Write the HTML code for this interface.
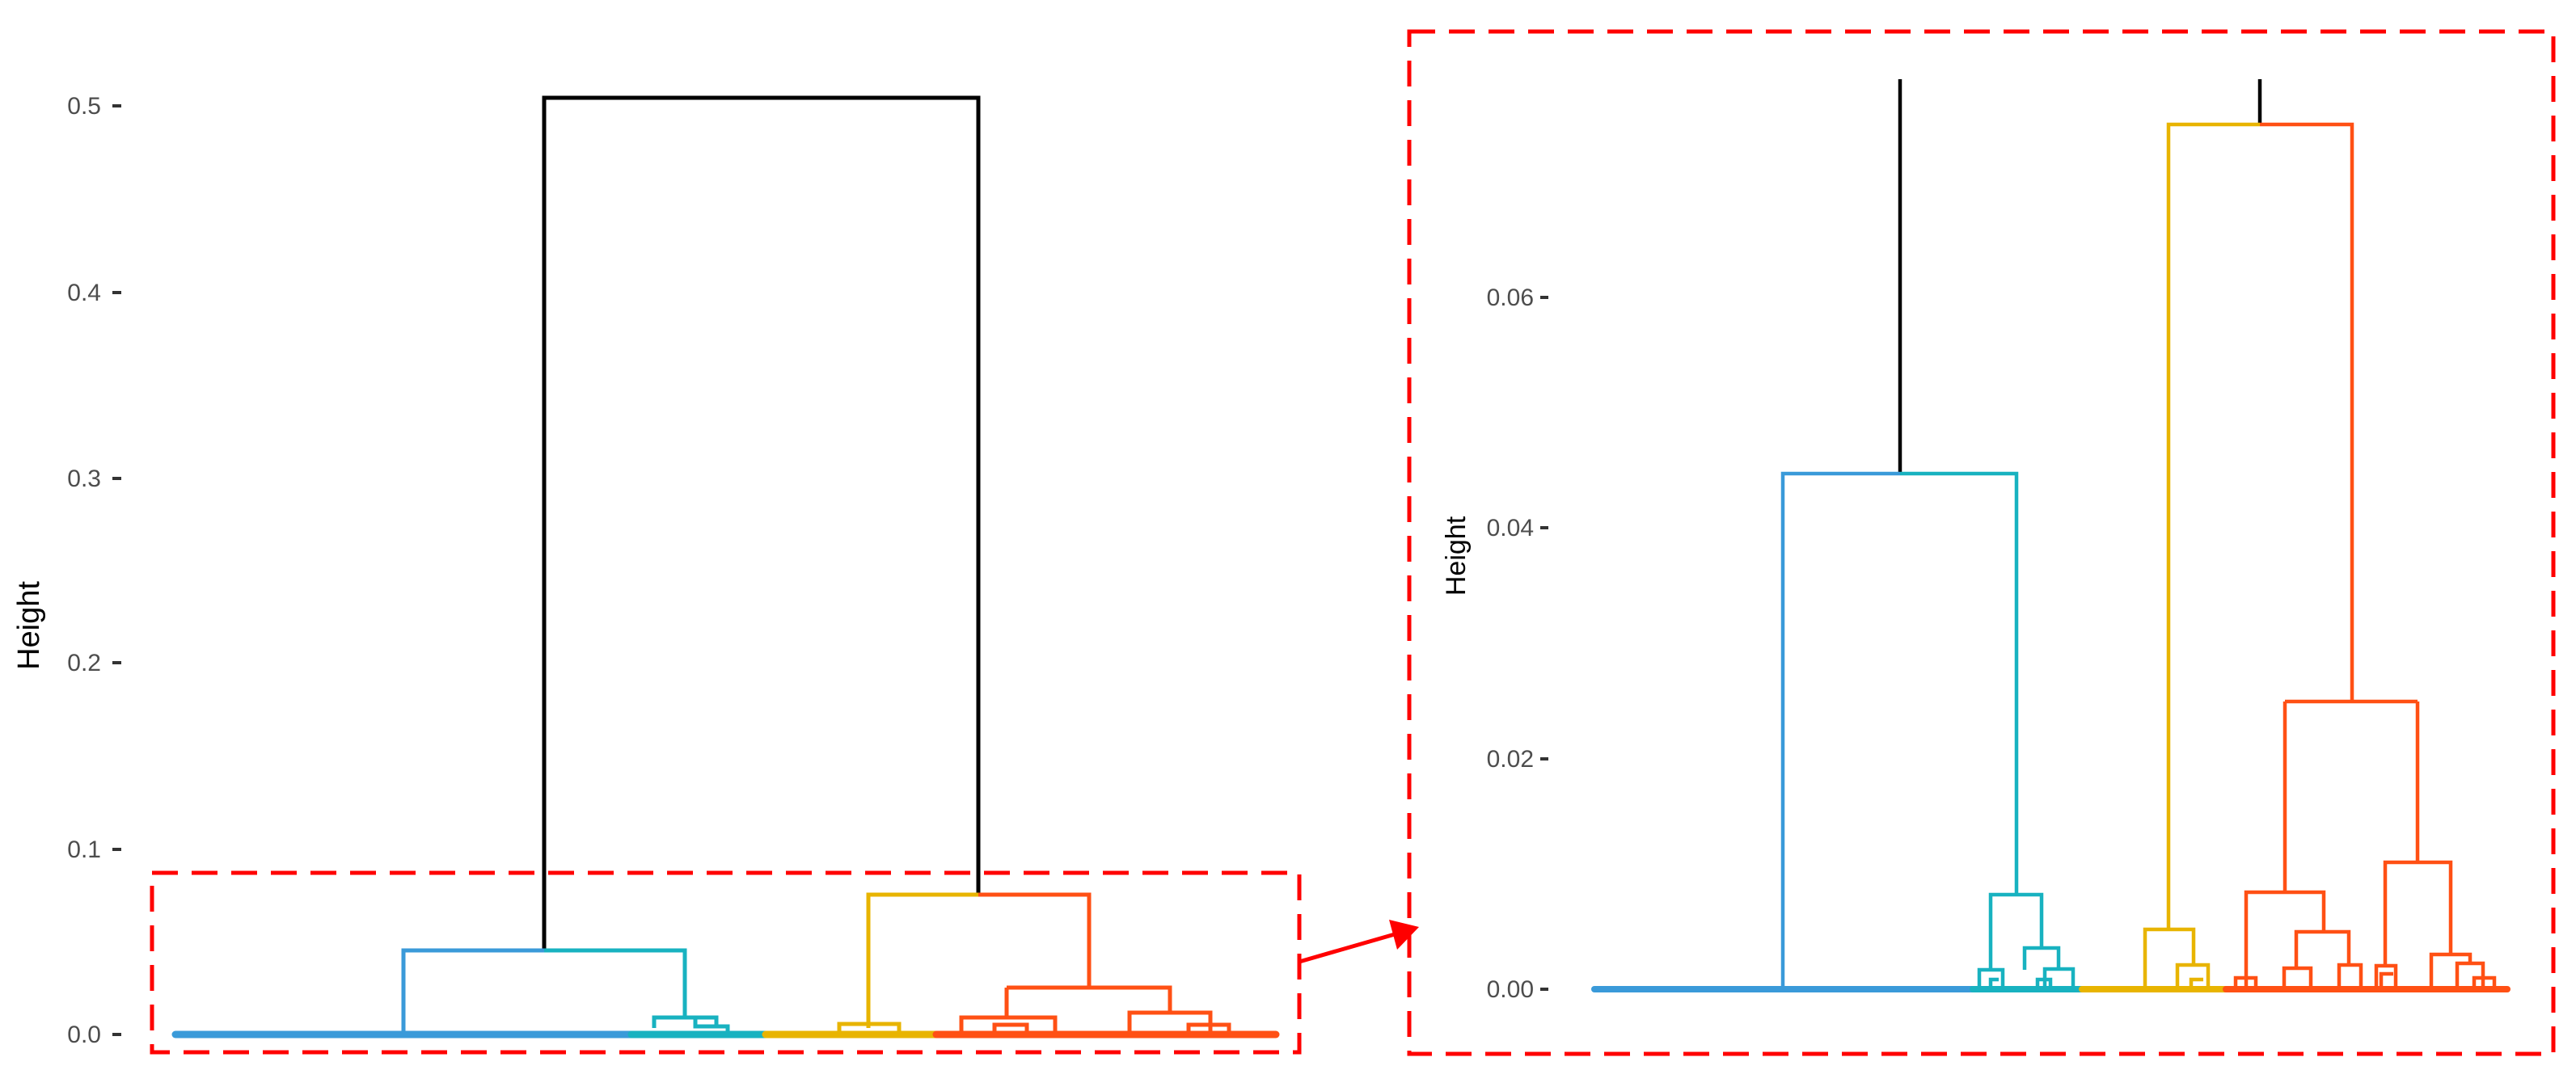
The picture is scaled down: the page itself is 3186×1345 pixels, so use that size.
<!DOCTYPE html>
<html><head><meta charset="utf-8"><style>
html,body{margin:0;padding:0;background:#fff;}
svg{display:block;}
text{font-family:"Liberation Sans",sans-serif;}
</style></head><body>
<svg width="3186" height="1345" viewBox="0 0 3186 1345" xmlns="http://www.w3.org/2000/svg">
<rect width="3186" height="1345" fill="#fff"/>
<!-- LEFT PANEL axis -->
<g font-size="30" fill="#4d4d4d" text-anchor="end">
<text x="125" y="141">0.5</text><text x="125" y="372">0.4</text><text x="125" y="602">0.3</text>
<text x="125" y="830">0.2</text><text x="125" y="1061">0.1</text><text x="125" y="1290">0.0</text>
</g>
<g stroke="#333" stroke-width="4">
<line x1="139" y1="131" x2="150" y2="131"/><line x1="139" y1="362" x2="150" y2="362"/>
<line x1="139" y1="592" x2="150" y2="592"/><line x1="139" y1="820" x2="150" y2="820"/>
<line x1="139" y1="1051" x2="150" y2="1051"/><line x1="139" y1="1280" x2="150" y2="1280"/>
</g>
<text x="48" y="774" font-size="38" fill="#000" text-anchor="middle" transform="rotate(-90 48 774)">Height</text>
<g fill="none" stroke-width="5">
<path d="M673 1176 V121 H1210 V1107" stroke="#000"/>
<path d="M673 1176 H499 V1280" stroke="#3a9ad9"/>
<path d="M673 1176 H847 V1259 M809 1272 V1259 H886 V1272 M860 1259 V1270 H900 V1276" stroke="#18b2c0"/>
<path d="M1210 1107 H1074 V1272 M1038 1278 V1267 H1112 V1278" stroke="#e8b400"/>
<path d="M1210 1107 H1347 V1222 M1245 1222 V1259 M1245 1222 H1447 V1253 M1189 1276 V1259 H1305 V1276 M1397 1276 V1253 H1497 V1276 M1230 1276 V1268 H1270 V1276 M1470 1276 V1268 H1520 V1276" stroke="#ff5014"/>
</g>
<g stroke-width="9" stroke-linecap="round">
<line x1="217" y1="1280" x2="781" y2="1280" stroke="#3a9ad9"/>
<line x1="781" y1="1280" x2="947" y2="1280" stroke="#18b2c0"/>
<line x1="947" y1="1280" x2="1158" y2="1280" stroke="#e8b400"/>
<line x1="1158" y1="1280" x2="1578" y2="1280" stroke="#ff5014"/>
</g>
<rect x="188" y="1080" width="1419" height="222" fill="none" stroke="#f00" stroke-width="5" stroke-dasharray="32 17"/>
<!-- arrow -->
<line x1="1607" y1="1190" x2="1725" y2="1156" stroke="#f00" stroke-width="5"/>
<polygon points="1755,1147 1718,1138 1728,1175" fill="#f00"/>
<!-- RIGHT PANEL -->
<rect x="1743" y="39" width="1415" height="1265" fill="none" stroke="#f00" stroke-width="5" stroke-dasharray="32 17"/>
<g font-size="30" fill="#4d4d4d" text-anchor="end">
<text x="1897" y="378">0.06</text><text x="1897" y="663">0.04</text>
<text x="1897" y="949">0.02</text><text x="1897" y="1234">0.00</text>
</g>
<g stroke="#333" stroke-width="4">
<line x1="1905" y1="368" x2="1915" y2="368"/><line x1="1905" y1="653" x2="1915" y2="653"/>
<line x1="1905" y1="939" x2="1915" y2="939"/><line x1="1905" y1="1224" x2="1915" y2="1224"/>
</g>
<text x="1812" y="688" font-size="34" fill="#000" text-anchor="middle" transform="rotate(-90 1812 688)">Height</text>
<g fill="none" stroke-width="4.5">
<path d="M2350 98 V586 M2795 98 V154" stroke="#000"/>
<path d="M2350 586 H2205 V1224" stroke="#3a9ad9"/>
<path d="M2350 586 H2494 V1107 M2462 1200 V1107 H2525 V1173 M2448 1222 V1200 H2477 V1222 M2504 1200 V1173 H2546 V1199 M2529 1222 V1199 H2564 V1222 M2462 1222 V1212 H2472 M2520 1222 V1212 H2536 V1222" stroke="#18b2c0"/>
<path d="M2795 154 H2682 V1150 M2653 1224 V1150 H2713 V1194 M2693 1222 V1194 H2731 V1222 M2710 1222 V1212 H2725" stroke="#e8b400"/>
<path d="M2795 154 H2909 V868 M2826 868 H2990 M2826 868 V1104 M2778 1222 V1104 H2874 V1153 M2840 1198 V1153 H2905 V1194 M2825 1222 V1198 H2858 V1222 M2893 1222 V1194 H2920 V1222 M2990 868 V1067 M2950 1195 V1067 H3031 V1181 M2939 1222 V1195 H2963 V1222 M3007 1222 V1181 H3055 V1192 M3039 1222 V1192 H3071 V1222 M2765 1222 V1210 H2790 V1222 M2945 1222 V1205 H2960 M3060 1222 V1210 H3085 V1222" stroke="#ff5014"/>
</g>
<g stroke-width="8" stroke-linecap="round">
<line x1="1972" y1="1224" x2="2440" y2="1224" stroke="#3a9ad9"/>
<line x1="2440" y1="1224" x2="2575" y2="1224" stroke="#18b2c0"/>
<line x1="2575" y1="1224" x2="2753" y2="1224" stroke="#e8b400"/>
<line x1="2753" y1="1224" x2="3101" y2="1224" stroke="#ff5014"/>
</g>
</svg>
</body></html>
